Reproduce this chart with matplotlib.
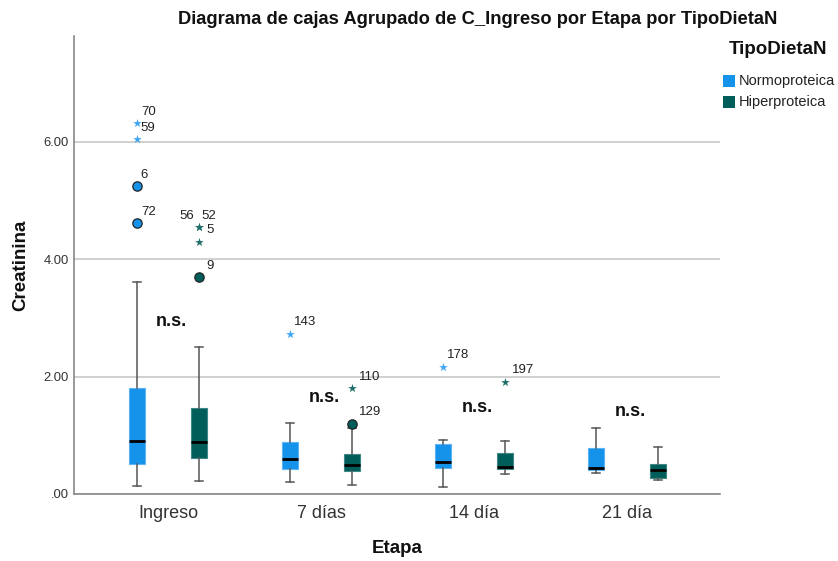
import numpy as np
import matplotlib
matplotlib.use('Agg')
import matplotlib.pyplot as plt
from matplotlib.patches import Rectangle
from matplotlib.ticker import FuncFormatter

plt.rcParams['font.family'] = ['Liberation Sans', 'DejaVu Sans']

# categories and groups
etapas = ['Ingreso', '7 días', '14 día', '21 día']
grupos = ['Normoproteica', 'Hiperproteica']

# box statistics per etapa (Normoproteica)
normo_whislo = [0.14, 0.20, 0.12, 0.36]
normo_q1 = [0.51, 0.43, 0.44, 0.41]
normo_med = [0.90, 0.60, 0.54, 0.44]
normo_q3 = [1.80, 0.89, 0.85, 0.78]
normo_whishi = [3.61, 1.21, 0.92, 1.12]

# box statistics per etapa (Hiperproteica)
hiper_whislo = [0.22, 0.15, 0.34, 0.24]
hiper_q1 = [0.61, 0.39, 0.42, 0.27]
hiper_med = [0.89, 0.49, 0.46, 0.41]
hiper_q3 = [1.46, 0.68, 0.70, 0.51]
hiper_whishi = [2.50, 1.12, 0.90, 0.80]

# outliers: etapa index, value, kind ('o' = outlier, '*' = extreme), case id
normo_out_etapa = [0, 0, 0, 0, 1, 2]
normo_out_val = [6.31, 6.04, 5.24, 4.61, 2.72, 2.16]
normo_out_kind = ['*', '*', 'o', 'o', '*', '*']
normo_out_id = ['70', '59', '6', '72', '143', '178']

hiper_out_etapa = [0, 0, 0, 0, 1, 1, 2]
hiper_out_val = [4.54, 4.54, 4.29, 3.69, 1.80, 1.19, 1.91]
hiper_out_kind = ['*', '*', '*', 'o', '*', 'o', '*']
hiper_out_id = ['56', '52', '5', '9', '110', '129', '197']

# significance text height per etapa
ns_y = [2.93, 1.64, 1.48, 1.41]

col_normo = '#1592EA'
col_hiper = '#005E5A'
edge_normo = '#5DB4F2'
edge_hiper = '#3E8784'
star_normo = '#3FA6F2'
star_hiper = '#1F6E6A'

fig = plt.figure(figsize=(8.38, 5.61), dpi=100)
ax = fig.add_axes([74/838, 67/561, 646/838, 458/561])

offset = 0.2
box_w = 0.105
pos = np.arange(len(etapas))

groups = [
    (normo_whislo, normo_q1, normo_med, normo_q3, normo_whishi, col_normo, edge_normo, -offset),
    (hiper_whislo, hiper_q1, hiper_med, hiper_q3, hiper_whishi, col_hiper, edge_hiper, offset),
]
for wl, q1, med, q3, wh, fc, ec, dx in groups:
    stats = []
    for i in range(len(etapas)):
        stats.append(dict(whislo=wl[i], q1=q1[i], med=med[i], q3=q3[i], whishi=wh[i], fliers=[]))
    ax.bxp(stats, positions=pos + dx, widths=box_w, patch_artist=True,
           showfliers=False, manage_ticks=False,
           boxprops=dict(facecolor=fc, edgecolor=ec, linewidth=0.8),
           medianprops=dict(color='black', linewidth=2),
           whiskerprops=dict(color='#555555', linewidth=1.1),
           capprops=dict(color='#555555', linewidth=1.1),
           capwidths=0.052, zorder=3)

outs = [
    (normo_out_etapa, normo_out_val, normo_out_kind, normo_out_id, col_normo, star_normo, -offset),
    (hiper_out_etapa, hiper_out_val, hiper_out_kind, hiper_out_id, col_hiper, star_hiper, offset),
]
for et, val, kind, ids, fc, sc, dx in outs:
    for e, v, k, lab in zip(et, val, kind, ids):
        x = e + dx
        if k == 'o':
            ax.scatter(x, v, s=45, marker='o', facecolor=fc, edgecolor='#222222',
                       linewidth=0.9, zorder=4)
        else:
            ax.scatter(x, v, s=42, marker='*', color=sc, linewidth=0, zorder=4)
        ha = 'left'
        tx = 2.5 if dx < 0 else 5.5
        if lab == '56':
            ha, tx = 'right', -3
        elif lab == '52':
            tx = 2
        ax.annotate(lab, (x, v), xytext=(tx, 8.5), textcoords='offset points',
                    ha=ha, va='center', fontsize=9.5, color='#222222', zorder=5)

for i, y in enumerate(ns_y):
    ax.text(pos[i] + 0.02, y, 'n.s.', fontsize=13, fontweight='bold',
            ha='center', va='center', color='#111111')

ax.set_xlim(-0.614, 3.608)
ax.set_ylim(0, 7.8)
ax.set_xticks(pos)
ax.set_xticklabels(etapas, fontsize=13, color='#333333')
ax.set_yticks([0, 2, 4, 6])
ax.yaxis.set_major_formatter(FuncFormatter(lambda v, p: f'{v:.2f}'.lstrip('0')))
ax.tick_params(axis='y', labelsize=9.4, colors='#333333', length=0, pad=4)
ax.tick_params(axis='x', length=0, pad=8)
ax.grid(axis='y', color='#C8C8C8', linewidth=1.2, zorder=0)
ax.set_axisbelow(True)
for s in ['top', 'right']:
    ax.spines[s].set_visible(False)
for s in ['left', 'bottom']:
    ax.spines[s].set_color('#888888')
    ax.spines[s].set_linewidth(1.2)

ax.set_xlabel('Etapa', fontsize=13.5, fontweight='bold', labelpad=13, color='#111111')
ax.set_ylabel('Creatinina', fontsize=13.5, fontweight='bold', labelpad=10, color='#111111')
fig.text(478/838, 1 - 20/561, 'Diagrama de cajas Agrupado de C_Ingreso por Etapa por TipoDietaN',
         ha='center', va='center', fontsize=13.25, fontweight='bold', color='#111111')

# legend drawn in figure pixels
W, H = 838, 561
fig.text(778/W, 1 - 50/H, 'TipoDietaN', ha='center', va='center',
         fontsize=13.5, fontweight='bold', color='#111111')
for j, (lab, c) in enumerate(zip(grupos, [col_normo, col_hiper])):
    yc = 81 + 21 * j
    fig.add_artist(Rectangle((723/W, 1 - (yc + 6)/H), 12/W, 12/H,
                             transform=fig.transFigure, facecolor=c, edgecolor='none'))
    fig.text(739/W, 1 - yc/H, lab, ha='left', va='center', fontsize=10.5, color='#222222')

fig.savefig('out.png', dpi=100)
